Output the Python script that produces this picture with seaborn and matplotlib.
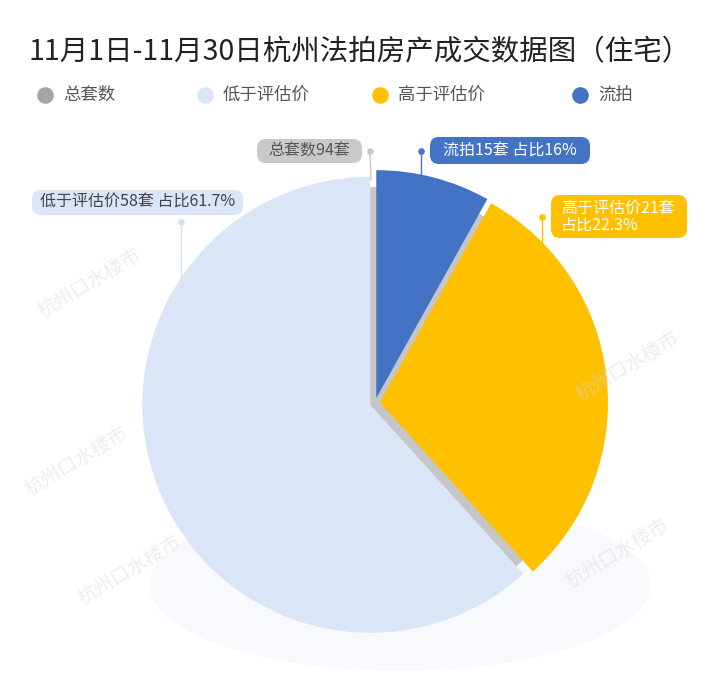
import numpy as np
import pandas as pd
import seaborn as sns
import matplotlib.pyplot as plt
from matplotlib.patches import FancyBboxPatch, Ellipse

# data
categories = ['总套数', '低于评估价', '高于评估价', '流拍']
counts = [94, 58, 21, 15]
share_text = ['', '61.7%', '22.3%', '16%']
# angular share of each coloured slice as drawn in the picture (流拍, 高于, 低于)
slice_order = ['流拍', '高于评估价', '低于评估价']
slice_share = [8.1, 30.2, 61.7]

colors = {'总套数': '#a5a5a5', '低于评估价': '#dae5f8', '高于评估价': '#ffc000', '流拍': '#4472c4'}

sns.set_theme(style='white')
plt.rcParams['font.family'] = ['Noto Sans CJK SC', 'DejaVu Sans']

W, H = 720, 676
fig = plt.figure(figsize=(7.2, 6.76), dpi=100)
ax = fig.add_axes([0, 0, 1, 1])

def Y(y):
    return H - y

cx, cy, R = 375, Y(403), 228

# soft background blob
ax.add_patch(Ellipse((cx + 25, Y(585)), 500, 170, color='#f8f9fd', zorder=0))

# watermarks
for wx, wy in [(90, 283), (77, 461), (130, 570), (628, 366), (618, 553)]:
    ax.text(wx, Y(wy), '杭州口水楼市', rotation=31, fontsize=14, color='#d8d8d8', alpha=0.45,
            ha='center', va='center', zorder=6)

# grey disk for the total
gray, _ = ax.pie([counts[0]], colors=['#c6c6c6'], radius=R - 12, center=(cx, cy),
                 wedgeprops=dict(linewidth=0))
gray[0].set_zorder(1)

# coloured slices, pushed apart a few pixels
pie_colors = [colors[c] for c in slice_order]
wedges, _ = ax.pie(slice_share, colors=pie_colors, radius=R, center=(cx, cy),
                   startangle=90, counterclock=False, explode=[5, 5, 5],
                   wedgeprops=dict(linewidth=0))
for w in wedges:
    w.set_zorder(2)
ax.set_xlim(0, W)
ax.set_ylim(0, H)
ax.set_aspect('equal')
ax.axis('off')

# title and legend
fig.text(0.5, 1 - 52 / H, '11月1日-11月30日杭州法拍房产成交数据图（住宅）',
         ha='center', va='center', fontsize=20.5, color='#222222')
leg_x = [45, 205, 380, 580]
for lx, cat in zip(leg_x, categories):
    ax.scatter([lx], [Y(95)], s=120, color=colors[cat], zorder=5)
    ax.text(lx + 18, Y(95), cat, fontsize=12.5, color='#555555', va='center')

# labels with rounded boxes and leader lines
def label(x0, y0, x1, y1, lines, fc, tc, dot, line_end, lc, ha='center'):
    box = FancyBboxPatch((x0, Y(y1)), x1 - x0, y1 - y0,
                         boxstyle='round,pad=0,rounding_size=9', fc=fc, ec='none', zorder=7)
    ax.add_patch(box)
    if ha == 'center':
        tx = (x0 + x1) / 2
    else:
        tx = x0 + 10
    ax.text(tx, Y((y0 + y1) / 2), lines, ha=ha, va='center', fontsize=11.5,
            color=tc, zorder=8, linespacing=1.0)
    ax.plot([dot[0], line_end[0]], [Y(dot[1]), Y(line_end[1])], color=lc, lw=1, zorder=4)
    ax.scatter([dot[0]], [Y(dot[1])], s=14, color=lc, zorder=4)

label(257, 139, 362, 163, f'{categories[0]}{counts[0]}套', '#c9c9c9', '#555555',
      (370, 151), (371, 180), '#c9c9c9')
label(430, 137, 590, 164, f'{categories[3]}{counts[3]}套 占比{share_text[3]}', colors['流拍'], 'white',
      (421, 151), (421, 182), colors['流拍'])
label(551, 195, 687, 238, f'{categories[2]}{counts[2]}套\n占比{share_text[2]}', colors['高于评估价'], 'white',
      (542, 217), (542, 242), colors['高于评估价'], ha='left')
label(32, 190, 243, 215, f'{categories[1]}{counts[1]}套 占比{share_text[1]}', colors['低于评估价'], '#444444',
      (181, 222), (181, 282), '#d3def2')

fig.savefig('out.png', dpi=100, facecolor='white')
